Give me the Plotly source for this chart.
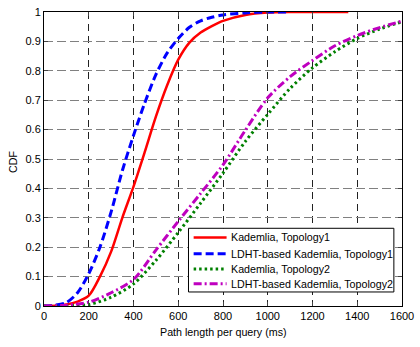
import plotly.graph_objects as go

# Kademlia, Topology1 (red solid)
red_x = [0, 50, 100, 150, 200, 250, 300, 350, 400, 450, 500, 550, 600, 650, 700, 750, 800, 900, 1000, 1100, 1360]
red_y = [0, 0.001, 0.005, 0.015, 0.035, 0.1, 0.185, 0.3, 0.406, 0.523, 0.644, 0.75, 0.838, 0.896, 0.93, 0.952, 0.97, 0.99, 0.998, 1.0, 1.0]

# LDHT-based Kademlia, Topology1 (blue dashed)
blue_x = [0, 50, 100, 150, 200, 250, 300, 350, 400, 450, 500, 550, 600, 650, 700, 750, 800, 900, 1000, 1090]
blue_y = [0, 0.003, 0.012, 0.045, 0.11, 0.2, 0.32, 0.46, 0.58, 0.69, 0.787, 0.86, 0.91, 0.948, 0.97, 0.982, 0.99, 0.997, 1.0, 1.0]

# Kademlia, Topology2 (green dotted)
green_x = [0, 100, 200, 300, 400, 500, 600, 700, 800, 900, 1000, 1100, 1200, 1300, 1400, 1500, 1600]
green_y = [0, 0.001, 0.005, 0.03, 0.075, 0.155, 0.25, 0.35, 0.452, 0.56, 0.652, 0.74, 0.81, 0.865, 0.91, 0.942, 0.967]

# LDHT-based Kademlia, Topology2 (magenta dash-dot)
mag_x = [0, 100, 200, 300, 400, 500, 600, 700, 800, 900, 1000, 1100, 1200, 1300, 1400, 1500, 1600]
mag_y = [0, 0.003, 0.013, 0.045, 0.09, 0.19, 0.288, 0.383, 0.48, 0.598, 0.708, 0.78, 0.835, 0.885, 0.92, 0.947, 0.969]

names = ["Kademlia, Topology1", "LDHT-based Kademlia, Topology1",
         "Kademlia, Topology2", "LDHT-based Kademlia, Topology2"]
colors = ["#FF0000", "#0000FF", "#008000", "#BF00BF"]
dashes = ["solid", "8px,4px", "2.5px,3px", "8px,3px,2px,3px"]
widths = [2.5, 3, 3, 3]

x_ticks = [0, 200, 400, 600, 800, 1000, 1200, 1400, 1600]
y_ticks = [0, 0.1, 0.2, 0.3, 0.4, 0.5, 0.6, 0.7, 0.8, 0.9, 1]
y_tick_text = ["0", "0.1", "0.2", "0.3", "0.4", "0.5", "0.6", "0.7", "0.8", "0.9", "1"]

series = [(red_x, red_y), (blue_x, blue_y), (green_x, green_y), (mag_x, mag_y)]

fig = go.Figure()
for (sx, sy), n, c, d, w in zip(series, names, colors, dashes, widths):
    fig.add_trace(go.Scatter(x=sx, y=sy, mode="lines", name=n, showlegend=False,
                             line=dict(color=c, width=w, dash=d, shape="spline", smoothing=0.8)))

font = "Liberation Sans, Arial, sans-serif"

# custom legend (paper coordinates of the plot area)
shapes = [dict(type="rect", xref="paper", yref="paper", x0=0.4036, x1=0.9773, y0=0.0477, y1=0.2643,
               fillcolor="white", line=dict(color="black", width=1), layer="above")]
annotations = []
row_y = [0.2333, 0.1777, 0.1257, 0.0757]
for n, c, d, w, ry in zip(names, colors, dashes, widths, row_y):
    shapes.append(dict(type="line", xref="paper", yref="paper", x0=0.418, x1=0.510, y0=ry, y1=ry,
                       line=dict(color=c, width=w, dash=d), layer="above"))
    annotations.append(dict(text=n, xref="paper", yref="paper", x=0.5219, y=ry, showarrow=False,
                            xanchor="left", yanchor="middle", xshift=-2, font=dict(size=10.7)))

annotations += [
    dict(text="Path length per query (ms)", xref="paper", yref="paper", x=0.5, y=0,
         yshift=-26, showarrow=False, xanchor="center", yanchor="middle", font=dict(size=10.7)),
    dict(text="CDF", xref="paper", yref="paper", x=0, y=0.5, xshift=-31, yshift=-3, textangle=-90,
         showarrow=False, xanchor="center", yanchor="middle", font=dict(size=10.7)),
]

fig.update_layout(
    width=420, height=347,
    margin=dict(l=44, r=10, t=6, b=41),
    paper_bgcolor="white", plot_bgcolor="white",
    font=dict(family=font, size=11, color="black"),
    showlegend=False,
    xaxis=dict(range=[0, 1600], tickvals=x_ticks, ticks="inside", ticklen=4,
               showline=True, linecolor="black", linewidth=1, mirror="ticks",
               showgrid=True, gridcolor="#222222", gridwidth=1, griddash="7px,5px",
               zeroline=False, tickfont=dict(size=11), ticklabeloverflow="allow"),
    yaxis=dict(range=[0, 1], tickvals=y_ticks, ticktext=y_tick_text, ticks="inside", ticklen=4,
               showline=True, linecolor="black", linewidth=1, mirror="ticks",
               showgrid=True, gridcolor="#808080", gridwidth=1, griddash="9px,4px",
               zeroline=False, tickfont=dict(size=11), ticklabeloverflow="allow"),
    shapes=shapes,
    annotations=annotations,
)

fig.write_html("out.html", config={"displayModeBar": False},
               post_script="document.body.style.margin='0';")
